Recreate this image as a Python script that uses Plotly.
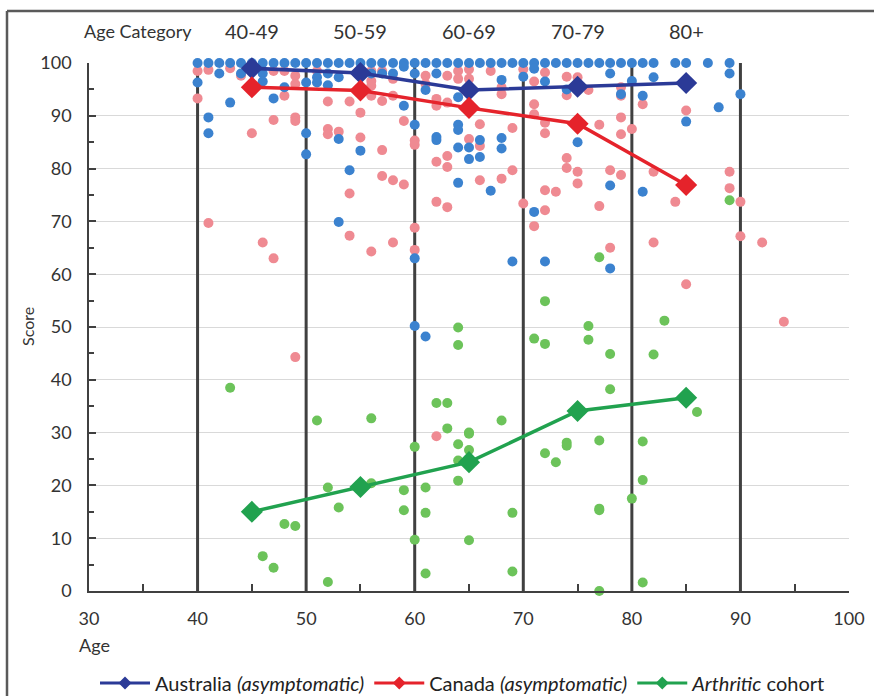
import plotly.graph_objects as go

# ---------------- data ----------------
category_labels = ["40-49", "50-59", "60-69", "70-79", "80+"]
category_mid_age = [45, 55, 65, 75, 85]

aus_mean = [99.0, 98.1, 94.9, 95.5, 96.2]
can_mean = [95.4, 94.8, 91.5, 88.5, 76.9]
arth_mean = [15.0, 19.7, 24.4, 34.1, 36.6]

aus_top_ages = list(range(40, 83)) + [84, 85, 87, 89]
aus_ages = [40, 41, 41, 42, 43, 44, 46, 46, 47, 48, 50, 50, 50, 51, 51, 52, 52, 53, 53, 54, 53, 55,
            56, 57, 58, 59, 59, 60, 60, 61, 62, 62, 62, 64, 64, 64, 64, 64, 65, 65, 66, 66, 67,
            68, 68, 68, 70, 71, 71, 72, 74, 75, 78, 78, 79, 80, 81, 81, 82, 85, 88, 89, 90,
            60, 60, 61, 69, 72, 78]
aus_scores = [96.3, 89.7, 86.7, 98, 92.5, 98, 98, 96.5, 93.3, 95.4, 96.3, 86.7, 82.7, 97.3, 96.3, 98, 95.8, 97.3, 85.6, 79.7, 69.9, 83.4,
              98, 98, 98, 99.3, 91.9, 98, 88.3, 94.9, 98, 86, 85.4, 93.5, 88.3, 87.3, 84, 77.3, 84, 81.8, 85.4, 82.2, 75.8,
              96.8, 85.8, 83.8, 97.4, 98.9, 71.8, 96.5, 95, 85, 98, 76.8, 94.1, 96.6, 93.8, 75.6, 97.3, 88.9, 91.6, 98, 94.1,
              63, 50.2, 48.2, 62.4, 62.4, 61.1]

can_ages = [40, 40, 41, 41, 43, 44, 45, 46, 47, 47, 48, 48, 49, 49, 49, 49, 51, 52, 52, 52, 53, 54, 54, 55, 55, 54,
            56, 56, 56, 56, 57, 57, 57, 57, 58, 58, 58, 58, 59, 59, 60, 60, 60, 61, 61, 62, 62, 62, 62,
            63, 63, 63, 63, 63, 64, 64, 65, 65, 65, 66, 66, 66, 67, 68, 68, 68, 69, 69, 70, 70,
            71, 71, 71, 71, 72, 72, 72, 72, 72, 73, 74, 74, 74, 74, 75, 75, 75, 76, 77, 77, 78, 78,
            79, 79, 79, 79, 79, 80, 81, 82, 82, 84, 85, 89, 89, 90, 90, 92, 47, 49, 56, 60, 62, 85, 94]
can_scores = [98.5, 93.3, 69.7, 98.7, 99, 97.6, 86.7, 66, 89.2, 98.5, 93.8, 98.5, 97.6, 96, 89.7, 89, 98.5, 92.7, 87.5, 86.5, 87, 92.7, 67.3, 90.6, 85.9, 75.3,
              98.5, 96.6, 95.7, 93.8, 98.5, 92.8, 83.5, 78.6, 97, 93.8, 77.8, 66, 89, 77, 85.3, 84.5, 68.8, 97.6, 96, 93.2, 91.9, 81.3, 73.7,
              97.6, 92.5, 82.4, 80.3, 72.7, 98.5, 97, 98.8, 97, 85.6, 88.4, 84.3, 77.8, 98.5, 95.4, 94.1, 78.1, 87.7, 79.7, 73.4, 98.8,
              96.5, 92.2, 90.3, 69.1, 98.2, 88.7, 86.7, 75.9, 72.1, 75.6, 97.4, 93.9, 82, 80.1, 97.3, 79.4, 77.2, 94.9, 88.3, 72.9, 79.7, 65,
              95.4, 93.8, 89.7, 86.5, 78.8, 87.5, 92.2, 79.4, 66, 73.7, 91, 79.4, 76.3, 73.7, 67.2, 66, 63, 44.3, 64.3, 64.6, 29.3, 58.1, 51]

arth_ages = [43, 51, 56, 64, 64, 62, 63, 63, 65, 68, 77, 72, 76, 71, 72, 76, 78, 82, 83, 78, 86, 89,
             46, 47, 48, 49, 52, 52, 53, 56, 59, 59, 60, 60, 61, 61, 61, 64, 64, 64, 65, 65, 65,
             69, 69, 72, 73, 74, 74, 77, 77, 77, 77, 80, 81, 81, 81]
arth_scores = [38.5, 32.3, 32.7, 49.9, 46.6, 35.6, 35.6, 30.8, 29.8, 32.3, 63.2, 54.9, 50.2, 47.8, 46.8, 47.6, 44.9, 44.8, 51.2, 38.2, 33.9, 74,
               6.6, 4.4, 12.7, 12.3, 19.6, 1.7, 15.8, 20.4, 19.1, 15.3, 27.3, 9.7, 19.6, 14.8, 3.3, 27.8, 24.7, 20.9, 30, 26.7, 9.6,
               14.8, 3.7, 26.1, 24.4, 28.1, 27.5, 28.5, 15.6, 15.3, 0, 17.5, 28.3, 21, 1.6]

divider_ages = [40, 50, 60, 70, 80, 90]

series_names = ["Australia <i>(asymptomatic)</i>", "Canada <i>(asymptomatic)</i>", "<i>Arthritic</i> cohort"]

# ---------------- styling ----------------
FONT = "Lato"
TXT = "#333333"
BLUE_DOT = "#3b82cf"
PINK_DOT = "#ef8a92"
GREEN_DOT = "#6cc35a"
AUS_LINE = "#2b3a97"
CAN_LINE = "#e5232b"
ARTH_LINE = "#21a24f"
DARK = "#404040"

# plot-area pixel geometry (for paper-coordinate placement)
L, R, T, B, W, H = 89, 25, 63, 105, 874, 696
PW, PH = W - L - R, H - T - B


def px_x(px):
    return (px - L) / PW


def px_y(py):
    return (H - B - py) / PH


fig = go.Figure()

dot = dict(size=10, line=dict(width=0))
fig.add_trace(go.Scatter(x=can_ages, y=can_scores, mode="markers", marker=dict(color=PINK_DOT, **dot),
                         showlegend=False, cliponaxis=False, hoverinfo="skip"))
fig.add_trace(go.Scatter(x=aus_top_ages, y=[100] * len(aus_top_ages), mode="markers",
                         marker=dict(color=BLUE_DOT, **dot), showlegend=False, cliponaxis=False, hoverinfo="skip"))
fig.add_trace(go.Scatter(x=aus_ages, y=aus_scores, mode="markers", marker=dict(color=BLUE_DOT, **dot),
                         showlegend=False, cliponaxis=False, hoverinfo="skip"))
fig.add_trace(go.Scatter(x=arth_ages, y=arth_scores, mode="markers", marker=dict(color=GREEN_DOT, **dot),
                         showlegend=False, cliponaxis=False, hoverinfo="skip"))

line_colors = [AUS_LINE, CAN_LINE, ARTH_LINE]
for name, vals, col in zip(series_names, [aus_mean, can_mean, arth_mean], line_colors):
    fig.add_trace(go.Scatter(x=category_mid_age, y=vals, mode="lines+markers", name=name,
                             line=dict(color=col, width=3.5),
                             marker=dict(symbol="diamond", size=17, color=col),
                             cliponaxis=False, showlegend=False))
# legend entries (smaller diamond on the line, as in the original legend)
for name, col in zip(series_names, line_colors):
    fig.add_trace(go.Scatter(x=[None], y=[None], mode="lines+markers", name=name,
                             line=dict(color=col, width=3),
                             marker=dict(symbol="diamond", size=10, color=col)))

for a in divider_ages:
    fig.add_shape(type="line", x0=a, x1=a, y0=0, y1=100, xref="x", yref="y",
                  line=dict(color=DARK, width=3), layer="between")

# outer frame (top and left edges only visible)
fig.add_shape(type="line", xref="paper", yref="paper", x0=px_x(7), x1=px_x(880), y0=px_y(11), y1=px_y(11),
              line=dict(color="#5a5a5a", width=2.5))
fig.add_shape(type="line", xref="paper", yref="paper", x0=px_x(7), x1=px_x(7), y0=px_y(11), y1=px_y(710),
              line=dict(color="#5a5a5a", width=2.5))

# age category header
fig.add_annotation(x=px_x(138), y=px_y(31), xref="paper", yref="paper", text="Age Category", showarrow=False,
                   xanchor="center", yanchor="middle", font=dict(size=18, color=TXT, family=FONT))
for lab, a in zip(category_labels, category_mid_age):
    fig.add_annotation(x=a, y=px_y(31), xref="x", yref="paper", text=lab, showarrow=False,
                       xanchor="center", yanchor="middle", font=dict(size=20, color=TXT, family=FONT))

fig.add_annotation(x=px_x(77), y=px_y(645), xref="paper", yref="paper", text="Age", showarrow=False,
                   xanchor="left", yanchor="middle", font=dict(size=18, color=TXT, family=FONT))
fig.add_annotation(x=px_x(27), y=px_y(327), xref="paper", yref="paper", text="Score",
                   showarrow=False, textangle=-90, xanchor="center", yanchor="middle",
                   font=dict(size=16, color=TXT, family=FONT))

fig.update_layout(
    width=W, height=H,
    margin=dict(l=L, r=R, t=T, b=B, autoexpand=False),
    paper_bgcolor="white", plot_bgcolor="white",
    font=dict(family=FONT, size=18, color=TXT),
    showlegend=True,
    legend=dict(orientation="h", x=px_x(463), xanchor="center", y=px_y(683), yanchor="middle",
                font=dict(size=20, family=FONT, color="#222222"), itemwidth=50,
                bgcolor="rgba(0,0,0,0)"),
    xaxis=dict(range=[30, 100], dtick=10, tick0=30, showgrid=False, zeroline=False,
               showline=True, linecolor=DARK, linewidth=1.5,
               ticks="inside", ticklen=7, tickcolor=DARK, tickwidth=1.5,
               minor=dict(dtick=5, ticks="inside", ticklen=7, tickcolor=DARK, tickwidth=1.5, showgrid=False),
               ticklabelstandoff=11, tickfont=dict(size=18)),
    yaxis=dict(range=[0, 100], dtick=10, tick0=0, showgrid=True, gridcolor="#d9d9d9", gridwidth=1.2,
               zeroline=False, showline=True, linecolor=DARK, linewidth=1.5,
               ticks="inside", ticklen=7, tickcolor=DARK, tickwidth=1.5,
               minor=dict(dtick=5, ticks="inside", ticklen=5, tickcolor=DARK, tickwidth=1.5, showgrid=False),
               ticklabelstandoff=12, tickfont=dict(size=18)),
)

# remove the page's default 8px body margin so the figure sits at the window's top-left corner
fig.write_html("out.html", config={"displayModeBar": False},
               post_script="document.body.style.margin='0';")
